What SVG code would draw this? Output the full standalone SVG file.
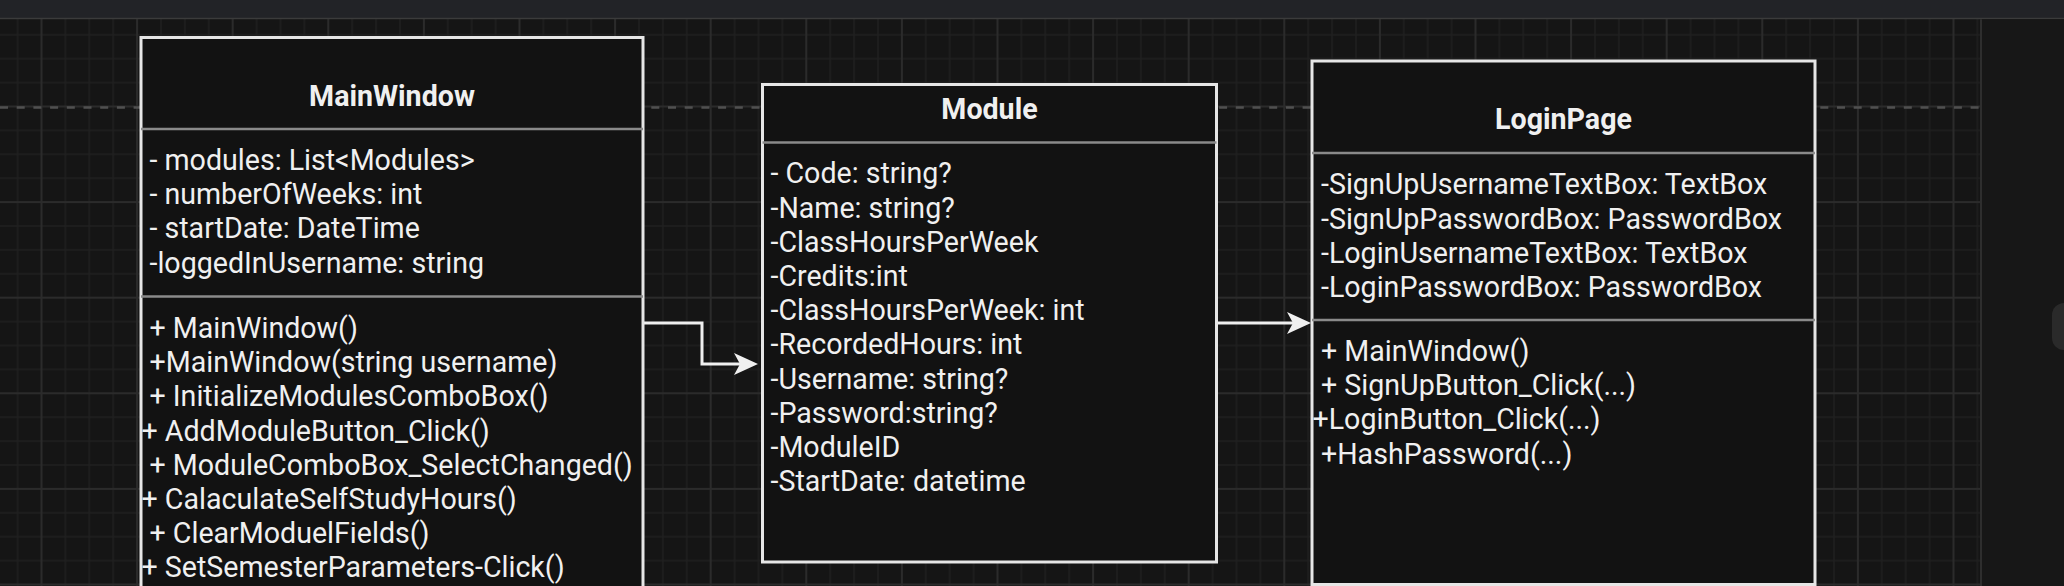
<svg xmlns="http://www.w3.org/2000/svg" width="2064" height="586" viewBox="0 0 2064 586">
  <style>
    .box { fill: #121212; stroke: #e6e6e6; stroke-width: 3; }
    .div { stroke: #8a8a8a; stroke-width: 2.5; }
    .t { font-family: Roboto, 'Liberation Sans', sans-serif; font-size: 28.6px; fill: #f0f0f0; }
    .title { font-weight: bold; text-anchor: middle; }
    .conn { fill: none; stroke: #f0f0f0; stroke-width: 3; }
  </style>
  <defs>
    <pattern id="grid" patternUnits="userSpaceOnUse" x="39.5" y="104.5" width="95.6" height="95.6">
      <g stroke="#1f1f1f" stroke-width="1.5">
        <line x1="25.9" y1="0" x2="25.9" y2="95.6"/>
        <line x1="49.8" y1="0" x2="49.8" y2="95.6"/>
        <line x1="73.7" y1="0" x2="73.7" y2="95.6"/>
        <line x1="0" y1="25.9" x2="95.6" y2="25.9"/>
        <line x1="0" y1="49.8" x2="95.6" y2="49.8"/>
        <line x1="0" y1="73.7" x2="95.6" y2="73.7"/>
      </g>
      <g stroke="#2b2b2b" stroke-width="2">
        <line x1="2" y1="0" x2="2" y2="95.6"/>
        <line x1="0" y1="2" x2="95.6" y2="2"/>
      </g>
    </pattern>
    <marker id="arrow" markerUnits="userSpaceOnUse" viewBox="-1 -13 27 26" markerWidth="27" markerHeight="26" refX="6" refY="0" orient="auto">
      <path d="M0,-11 L24,0 L0,11 L6,0 Z" fill="#f0f0f0"/>
    </marker>
  </defs>

  <!-- background / UI chrome -->
  <rect x="0" y="0" width="2064" height="586" fill="#151515"/>
  <rect x="0" y="19" width="1981" height="567" fill="url(#grid)"/>
  <line x1="0" y1="107.5" x2="1981" y2="107.5" stroke="#505050" stroke-width="2.5" stroke-dasharray="8 8.7"/>
  <rect x="0" y="0" width="2064" height="18" fill="#222327"/>
  <line x1="0" y1="18.5" x2="2064" y2="18.5" stroke="#3b3b3b" stroke-width="1.5"/>
  <rect x="1981" y="19.3" width="83" height="567" fill="#171717"/>
  <line x1="1981" y1="19.3" x2="1981" y2="586" stroke="#2e2e2e" stroke-width="2"/>
  <rect x="2052" y="303" width="30" height="47" rx="12" fill="#2a2a2a"/>

  <g id="connectors">
    <path class="conn" d="M643,323 H702 V364 H740" marker-end="url(#arrow)"/>
    <path class="conn" d="M1216.5,323 H1293" marker-end="url(#arrow)"/>
  </g>

  <g id="node-mainwindow">
    <rect class="box" x="141" y="37.5" width="502" height="600"/>
    <line class="div" x1="141" y1="129" x2="643" y2="129"/>
    <line class="div" x1="141" y1="296.5" x2="643" y2="296.5"/>
    <text class="t title" x="392" y="106">MainWindow</text>
    <text class="t" x="149.5" y="170">- modules: List&lt;Modules&gt;</text>
    <text class="t" x="149.5" y="204.2">- numberOfWeeks: int</text>
    <text class="t" x="149.5" y="238.4">- startDate: DateTime</text>
    <text class="t" x="149.5" y="272.6">-loggedInUsername: string</text>
    <text class="t" x="149.5" y="338">+ MainWindow()</text>
    <text class="t" x="149.5" y="372.2">+MainWindow(string username)</text>
    <text class="t" x="149.5" y="406.4">+ InitializeModulesComboBox()</text>
    <text class="t" x="141.5" y="440.6">+ AddModuleButton_Click()</text>
    <text class="t" x="149.5" y="474.8">+ ModuleComboBox_SelectChanged()</text>
    <text class="t" x="141.5" y="509">+ CalaculateSelfStudyHours()</text>
    <text class="t" x="149.5" y="543.2">+ ClearModuelFields()</text>
    <text class="t" x="141.5" y="577.4">+ SetSemesterParameters-Click()</text>
  </g>

  <g id="node-module">
    <rect class="box" x="762.5" y="84.5" width="454" height="477.5"/>
    <line class="div" x1="762.5" y1="142.5" x2="1216.5" y2="142.5"/>
    <text class="t title" x="989.5" y="119">Module</text>
    <text class="t" x="770.5" y="183.3">- Code: string?</text>
    <text class="t" x="770.5" y="217.5">-Name: string?</text>
    <text class="t" x="770.5" y="251.7">-ClassHoursPerWeek</text>
    <text class="t" x="770.5" y="285.9">-Credits:int</text>
    <text class="t" x="770.5" y="320.1">-ClassHoursPerWeek: int</text>
    <text class="t" x="770.5" y="354.3">-RecordedHours: int</text>
    <text class="t" x="770.5" y="388.5">-Username: string?</text>
    <text class="t" x="770.5" y="422.7">-Password:string?</text>
    <text class="t" x="770.5" y="456.9">-ModuleID</text>
    <text class="t" x="770.5" y="491.1">-StartDate: datetime</text>
  </g>

  <g id="node-loginpage">
    <rect class="box" x="1312" y="61" width="503" height="523.5"/>
    <line class="div" x1="1312" y1="153" x2="1815" y2="153"/>
    <line class="div" x1="1312" y1="320" x2="1815" y2="320"/>
    <text class="t title" x="1563.5" y="129">LoginPage</text>
    <text class="t" x="1321" y="194.3">-SignUpUsernameTextBox: TextBox</text>
    <text class="t" x="1321" y="228.5">-SignUpPasswordBox: PasswordBox</text>
    <text class="t" x="1321" y="262.7">-LoginUsernameTextBox: TextBox</text>
    <text class="t" x="1321" y="296.9">-LoginPasswordBox: PasswordBox</text>
    <text class="t" x="1321" y="361">+ MainWindow()</text>
    <text class="t" x="1321" y="395.2">+ SignUpButton_Click(...)</text>
    <text class="t" x="1312.5" y="429.4">+LoginButton_Click(...)</text>
    <text class="t" x="1321" y="463.6">+HashPassword(...)</text>
  </g>
</svg>
